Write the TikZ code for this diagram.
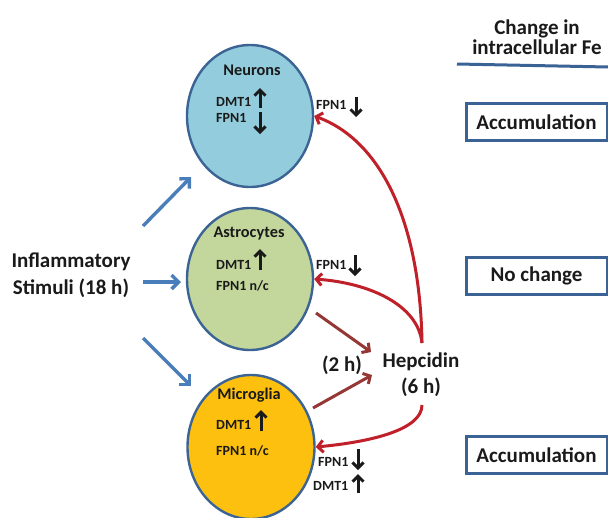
\documentclass[tikz,border=0pt]{standalone}
\usepackage{fontspec}
\setmainfont{Carlito}
\usetikzlibrary{arrows.meta,shapes.geometric}
\definecolor{cellborder}{HTML}{3B6494}
\definecolor{boxblue}{HTML}{3A6295}
\definecolor{neufill}{HTML}{93CDDD}
\definecolor{astfill}{HTML}{C3D69B}
\definecolor{micfill}{HTML}{FDC00F}
\definecolor{stimblue}{HTML}{4A7EBB}
\definecolor{hepred}{HTML}{C0202A}
\definecolor{slowred}{HTML}{953735}
\definecolor{txt}{HTML}{1A1A1A}
\tikzset{
  cell/.style={ellipse, draw=cellborder, line width=2.4pt, minimum width=126pt, minimum height=142pt, inner sep=0pt},
  celltitle/.style={font=\bfseries\fontsize{16.3}{19}\selectfont, text=txt, inner sep=0pt},
  marker/.style={font=\bfseries\fontsize{14}{16}\selectfont, text=txt, anchor=west, inner sep=0pt},
  bigtext/.style={font=\bfseries\fontsize{21}{27}\selectfont, align=center, text=txt, inner sep=0pt},
  headtext/.style={font=\bfseries\fontsize{21}{20}\selectfont, align=center, text=txt, inner sep=0pt},
  resultbox/.style={draw=boxblue, line width=3pt, minimum width=141pt, minimum height=37pt, inner sep=0pt, font=\bfseries\fontsize{21}{24}\selectfont, text=txt},
  stimarrow/.style={draw=stimblue, line width=3.4pt, -{Straight Barb[length=7pt,width=14pt]}},
  heparrow/.style={draw=hepred, line width=3pt, -{Straight Barb[length=5.5pt,width=12pt]}},
  slowarrow/.style={draw=slowred, line width=3pt, -{Straight Barb[length=5.5pt,width=12pt]}},
  chg/.style={draw=txt, line width=3pt, -{Straight Barb[length=5.5pt,width=11pt]}}
}
\begin{document}
\begin{tikzpicture}[x=1pt,y=-1pt]
\useasboundingbox (0,0) rectangle (608,517);

% cells
\node[cell, fill=neufill] (neu) at (250,116) {};
\node[cell, fill=astfill] (ast) at (250,279) {};
\node[cell, fill=micfill, minimum width=127pt, minimum height=144pt] (mic) at (251,447) {};

\node[celltitle] (neuT) at (252,70) {Neurons};
\node[celltitle] (astT) at (249,233) {Astrocytes};
\node[celltitle] (micT) at (249,395) {Microglia};

\node[marker] (neuD) at (216,102) {DMT1};
\node[marker] (neuF) at (216,118) {FPN1};
\node[marker] (astD) at (216,265) {DMT1};
\node[marker] (astF) at (216,286) {FPN1 n/c};
\node[marker] (micD) at (216,425) {DMT1};
\node[marker] (micF) at (216,451) {FPN1 n/c};

\draw[chg] (260,108) -- (260,88);
\draw[chg] (260,112) -- (260,134);
\draw[chg] (260,270) -- (260,249);
\draw[chg] (261,431) -- (261,410);

% outside markers
\node[marker] (neuR) at (316,105) {FPN1};
\node[marker] (astR) at (316,265) {FPN1};
\node[marker] (micR1) at (318,462) {FPN1};
\node[marker] (micR2) at (313,486) {DMT1};
\draw[chg] (356,97) -- (356,117);
\draw[chg] (355,255) -- (355,276);
\draw[chg] (358,449) -- (358,470);
\draw[chg] (358,493) -- (358,474);

% stimuli
\node[bigtext] (stim) at (71,275) {Inflammatory\\Stimuli (18 h)};
\coordinate (s1) at (143,226);
\coordinate (s2) at (143,282);
\coordinate (s3) at (143,338);
\coordinate (e1) at (191,177);
\coordinate (e2) at (181,282);
\coordinate (e3) at (191,386);
\draw[stimarrow] (s1) -- (e1);
\draw[stimarrow] (s2) -- (e2);
\draw[stimarrow] (s3) -- (e3);

% hepcidin
\node[bigtext, font=\bfseries\fontsize{21}{26}\selectfont] (hep) at (421,375) {Hepcidin\\(6 h)};
\node[bigtext] (two) at (342,365) {(2 h)};
\coordinate (hepTop) at (422,343);
\coordinate (hepBot) at (422,405);
\coordinate (a1) at (316,313);
\coordinate (a2) at (313,408);
\coordinate (t1) at (371,352);
\coordinate (t2) at (372,375);
\draw[slowarrow] (a1) -- (t1);
\draw[slowarrow] (a2) -- (t2);

\draw[heparrow] (hepTop) .. controls (420,220) and (380,140) .. (neu.east);
\draw[heparrow] (hepTop) .. controls (418,305) and (370,283) .. (ast.east);
\draw[heparrow] (hepBot) .. controls (422,430) and (370,442) .. (mic.east);

% right column
\node[headtext] (head) at (537,37) {Change in\\intracellular Fe};
\coordinate (h1) at (457,64);
\coordinate (h2) at (608,67);
\draw[boxblue, line width=3pt] (h1) -- (h2);

\node[resultbox] (r1) at (536.5,122) {Accumulation};
\node[resultbox] (r2) at (536.5,276) {No change};
\node[resultbox] (r3) at (536.5,455) {Accumulation};
\end{tikzpicture}
\end{document}
